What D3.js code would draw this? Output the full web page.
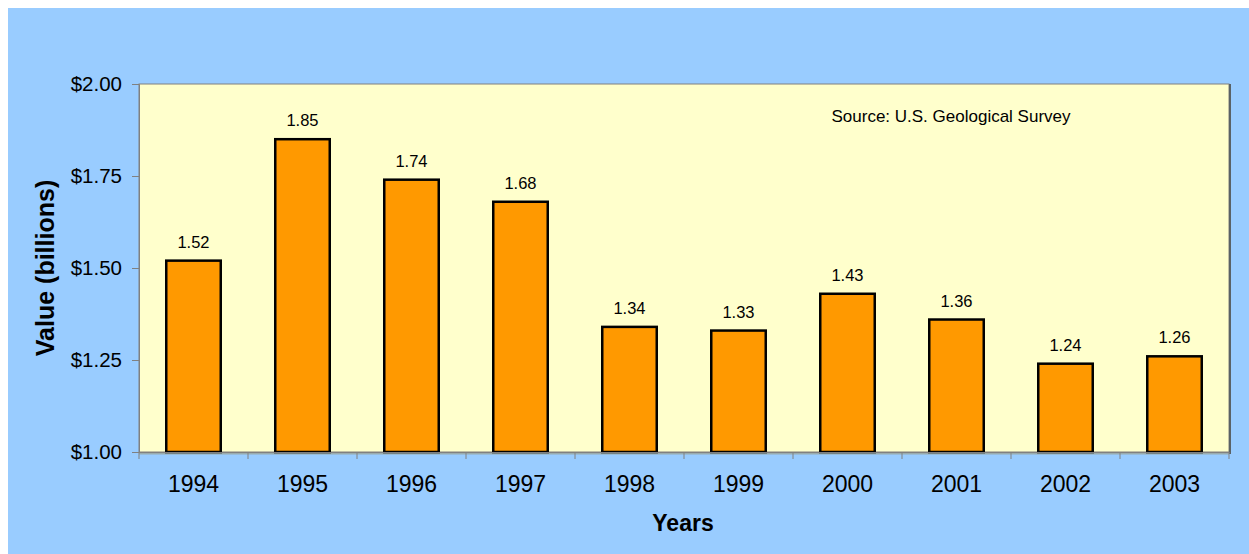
<!DOCTYPE html>
<html><head><meta charset="utf-8">
<script src="https://cdn.jsdelivr.net/npm/d3@7"></script>
<style>html,body{margin:0;padding:0;background:#fff;}svg{display:block;}</style>
</head><body>
<script>
const years = ["1994","1995","1996","1997","1998","1999","2000","2001","2002","2003"];
const values = [1.52,1.85,1.74,1.68,1.34,1.33,1.43,1.36,1.24,1.26];
const yTicks = [1.00,1.25,1.50,1.75,2.00];
const yTitle = "Value (billions)";
const xTitle = "Years";
const sourceNote = "Source: U.S. Geological Survey";

const W = 1249, H = 554;
const font = "'Liberation Sans', Arial, sans-serif";
const plot = {l:139, t:84, r:1229, b:452};

const svg = d3.select("body").append("svg").attr("width", W).attr("height", H);
svg.append("rect").attr("x",8).attr("y",8).attr("width",W-8).attr("height",H-8).attr("fill","#99CCFF");

const x = d3.scaleBand().domain(years).range([plot.l, plot.r]).paddingInner(0.5).paddingOuter(0.25);
const y = d3.scaleLinear().domain([1,2]).range([plot.b, plot.t]);

// plot area
svg.append("rect").attr("x",plot.l).attr("y",plot.t).attr("width",plot.r-plot.l).attr("height",plot.b-plot.t)
  .attr("fill","#FFFFCC").attr("stroke","#808080").attr("stroke-width",1);
// shadow right and bottom
svg.append("rect").attr("x",plot.r).attr("y",plot.t).attr("width",2).attr("height",plot.b-plot.t+2).attr("fill","#5a6266");
svg.append("rect").attr("x",plot.l).attr("y",plot.b+1).attr("width",plot.r-plot.l).attr("height",1.5).attr("fill","#9aa49a").attr("opacity",0.8);

// bars
svg.append("g").selectAll("rect").data(values).join("rect")
  .attr("x",(d,i)=>x(years[i])).attr("y",d=>y(d))
  .attr("width",x.bandwidth()).attr("height",d=>y(1)-y(d))
  .attr("fill","#FF9900").attr("stroke","#000").attr("stroke-width",2.5);

// value labels
svg.append("g").selectAll("text").data(values).join("text")
  .attr("x",(d,i)=>x(years[i])+x.bandwidth()/2).attr("y",d=>y(d)-13)
  .attr("text-anchor","middle").attr("font-family",font).attr("font-size",16.5)
  .text(d=>d.toFixed(2));

// y axis
const yAxis = d3.axisLeft(y).tickValues(yTicks).tickFormat(d=>"$"+d.toFixed(2)).tickSize(7).tickPadding(10);
const gy = svg.append("g").attr("transform",`translate(${plot.l},0)`).call(yAxis);
gy.select(".domain").attr("stroke","#808080");
gy.selectAll(".tick line").attr("stroke","#808080");
gy.selectAll("text").attr("font-family",font).attr("font-size",20.5).attr("fill","#000");

// x axis with ticks at category boundaries
const xAxis = d3.axisBottom(x).tickSize(0).tickPadding(24);
const gx = svg.append("g").attr("transform",`translate(0,${plot.b})`).call(xAxis);
gx.select(".domain").attr("stroke","#808080");
gx.selectAll("text").attr("font-family",font).attr("font-size",23).attr("fill","#000");
const bounds = years.map(d=>x(d)-x.step()*x.paddingInner()/2).concat([plot.r]);
gx.selectAll("line.bound").data(bounds).join("line").attr("class","bound")
  .attr("x1",d=>d).attr("x2",d=>d).attr("y1",0).attr("y2",7).attr("stroke","#808080");

// titles
svg.append("text").attr("transform",`translate(54,${(plot.t+plot.b)/2}) rotate(-90)`)
  .attr("text-anchor","middle").attr("font-family",font).attr("font-weight","bold").attr("font-size",25)
  .text(yTitle);
svg.append("text").attr("x",(plot.l+plot.r)/2 - 1).attr("y",531)
  .attr("text-anchor","middle").attr("font-family",font).attr("font-weight","bold").attr("font-size",23)
  .text(xTitle);
svg.append("text").attr("x",951).attr("y",122)
  .attr("text-anchor","middle").attr("font-family",font).attr("font-size",17)
  .text(sourceNote);
</script>
</body></html>
